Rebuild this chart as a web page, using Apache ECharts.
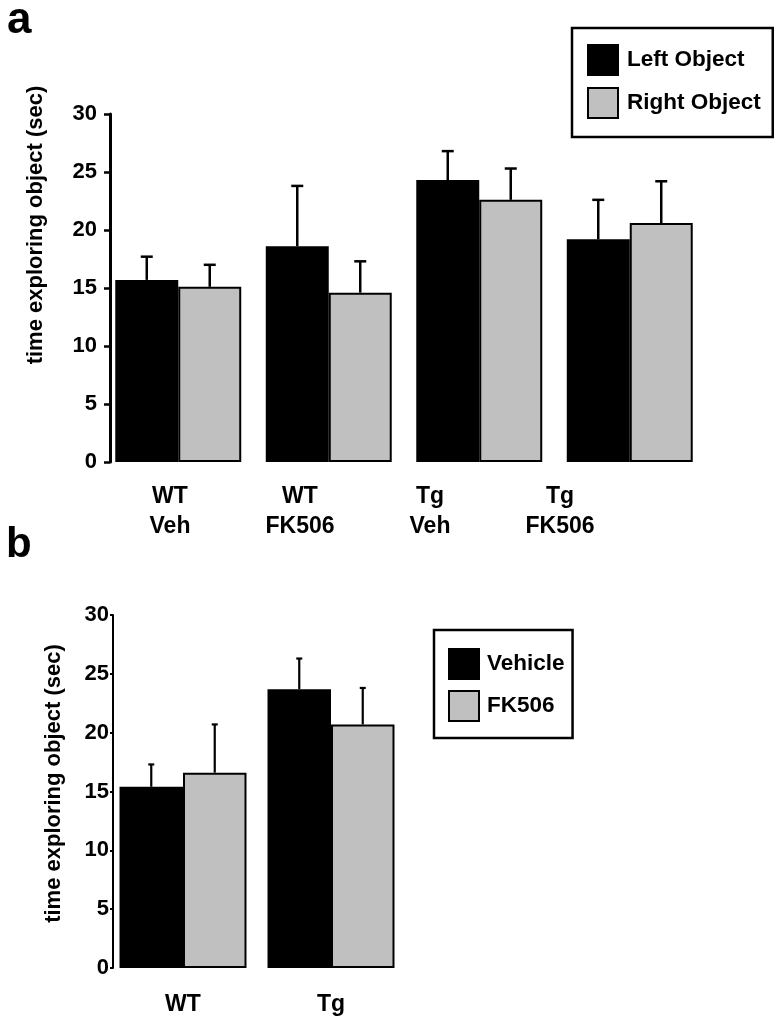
<!DOCTYPE html>
<html>
<head>
<meta charset="utf-8">
<script src="https://cdn.jsdelivr.net/npm/echarts@6/dist/echarts.min.js"></script>
<style>
html,body{margin:0;padding:0;background:#fff;}
#chart{width:784px;height:1025px;}
</style>
</head>
<body>
<div id="chart"></div>
<script>
// ---- Data ----
const categoriesA = ['WT\nVeh', 'WT\nFK506', 'Tg\nVeh', 'Tg\nFK506'];
const leftObject = [15.7, 18.6, 24.3, 19.2];
const leftObjectErr = [2.0, 5.2, 2.5, 3.4];
const rightObject = [15.1, 14.6, 22.6, 20.6];
const rightObjectErr = [1.9, 2.7, 2.7, 3.6];

const categoriesB = ['WT', 'Tg'];
const vehicle = [15.4, 23.7];
const vehicleErr = [1.9, 2.6];
const fk506 = [16.6, 20.7];
const fk506Err = [4.1, 3.1];

const yTicks = [0, 5, 10, 15, 20, 25, 30];
const yTitle = 'time exploring object (sec)';

// ---- Styling ----
const FONT = '"Liberation Sans", Arial, Helvetica, sans-serif';
const BLACK = '#000000';
const GRAY = '#c0c0c0';
const gapA = 0.163;
const gapB = 0.142;

function errData(vals, errs) {
  return vals.map((v, i) => [i, v, errs[i]]);
}
function errSeries(name, xi, yi, vals, errs, side, gap, lw, cap) {
  return {
    type: 'custom',
    name: name,
    xAxisIndex: xi,
    yAxisIndex: yi,
    z: 5,
    silent: true,
    encode: { x: 0, y: 1 },
    data: errData(vals, errs),
    renderItem: function (params, api) {
      const x = api.value(0), v = api.value(1), e = api.value(2);
      const base = api.coord([x, v]);
      const top = api.coord([x, v + e]);
      const bw = api.size([1, 0])[0] * (1 - gap) / 2;
      const cx = base[0] + side * bw / 2;
      const style = { stroke: BLACK, lineWidth: lw, fill: null };
      return {
        type: 'group',
        children: [
          { type: 'line', shape: { x1: cx, y1: base[1], x2: cx, y2: top[1] }, style: style },
          { type: 'line', shape: { x1: cx - cap / 2, y1: top[1], x2: cx + cap / 2, y2: top[1] }, style: style }
        ]
      };
    }
  };
}

const chart = echarts.init(document.getElementById('chart'), null, { renderer: 'canvas' });

const option = {
  backgroundColor: '#ffffff',
  animation: false,
  textStyle: { fontFamily: FONT, color: BLACK },
  title: [
    { text: 'a', left: 7, top: -1, padding: 0, textStyle: { fontSize: 44, fontWeight: 'bold', fontFamily: FONT, color: BLACK } },
    { text: 'b', left: 6, top: 524, padding: 0, textStyle: { fontSize: 42, fontWeight: 'bold', fontFamily: FONT, color: BLACK } }
  ],
  legend: [
    {
      data: ['Left Object', 'Right Object'],
      orient: 'vertical',
      left: 572, top: 28,
      padding: [16, 12, 18, 15],
      itemGap: 11,
      itemWidth: 30, itemHeight: 30,
      icon: 'rect',
      borderColor: BLACK, borderWidth: 2.5,
      selectedMode: false,
      textStyle: { fontSize: 22.5, fontWeight: 'bold', fontFamily: FONT, color: BLACK, padding: [0, 0, 0, 4] }
    },
    {
      data: ['Vehicle', 'FK506'],
      orient: 'vertical',
      left: 434, top: 630,
      padding: [18, 8, 16, 14],
      itemGap: 10,
      itemWidth: 30, itemHeight: 30,
      icon: 'rect',
      borderColor: BLACK, borderWidth: 2.5,
      selectedMode: false,
      textStyle: { fontSize: 22.5, fontWeight: 'bold', fontFamily: FONT, color: BLACK, padding: [0, 0, 0, 3] }
    }
  ],
  grid: [
    { left: 103, width: 602, top: 114, height: 348 },
    { left: 109, width: 296, top: 615, height: 353 },
    { left: 105, width: 520, top: 114, height: 348 }
  ],
  xAxis: [
    { type: 'category', gridIndex: 0, data: categoriesA, axisLine: { show: false }, axisTick: { show: false }, axisLabel: { show: false }, splitLine: { show: false } },
    { type: 'category', gridIndex: 1, data: categoriesB, axisLine: { show: false }, axisTick: { show: false },
      axisLabel: { show: true, interval: 0, margin: 25, fontSize: 23, fontWeight: 'bold', fontFamily: FONT, color: BLACK }, splitLine: { show: false } },
    { type: 'category', gridIndex: 2, data: categoriesA, axisLine: { show: false }, axisTick: { show: false },
      axisLabel: { show: true, interval: 0, margin: 20, fontSize: 23, lineHeight: 30, fontWeight: 'bold', fontFamily: FONT, color: BLACK }, splitLine: { show: false } }
  ],
  yAxis: [
    {
      type: 'value', gridIndex: 0, min: 0, max: 30, interval: 5, offset: -7,
      name: yTitle, nameLocation: 'middle', nameGap: 63, nameRotate: 90,
      nameTextStyle: { fontSize: 22, fontWeight: 'bold', fontFamily: FONT, color: BLACK, padding: [0, 0, 0, 126] },
      axisLine: { show: true, lineStyle: { color: BLACK, width: 3 } },
      axisTick: { show: true, inside: false, length: 6, lineStyle: { color: BLACK, width: 2.5 } },
      axisLabel: { margin: 13, fontSize: 22, fontWeight: 'bold', fontFamily: FONT, color: BLACK,
        formatter: function (v) { return yTicks.indexOf(v) >= 0 ? String(v) : ''; } },
      splitLine: { show: false }
    },
    {
      type: 'value', gridIndex: 1, min: 0, max: 30, interval: 5, offset: -4,
      name: yTitle, nameLocation: 'middle', nameGap: 48, nameRotate: 90,
      nameTextStyle: { fontSize: 22, fontWeight: 'bold', fontFamily: FONT, color: BLACK, padding: [0, 0, 0, 16] },
      axisLine: { show: true, lineStyle: { color: BLACK, width: 2 } },
      axisTick: { show: true, inside: false, length: 3, lineStyle: { color: BLACK, width: 2 } },
      axisLabel: { margin: 4, fontSize: 22, fontWeight: 'bold', fontFamily: FONT, color: BLACK,
        formatter: function (v) { return yTicks.indexOf(v) >= 0 ? String(v) : ''; } },
      splitLine: { show: false }
    },
    { type: 'value', gridIndex: 2, min: 0, max: 30, show: false, splitLine: { show: false } }
  ],
  series: [
    { type: 'bar', name: 'Left Object', xAxisIndex: 0, yAxisIndex: 0, data: leftObject, barGap: '0%', barCategoryGap: (gapA * 100) + '%',
      itemStyle: { color: BLACK, borderColor: BLACK, borderWidth: 2 } },
    { type: 'bar', name: 'Right Object', xAxisIndex: 0, yAxisIndex: 0, data: rightObject, barGap: '0%', barCategoryGap: (gapA * 100) + '%',
      itemStyle: { color: GRAY, borderColor: BLACK, borderWidth: 2 } },
    errSeries('Left Object error', 0, 0, leftObject, leftObjectErr, -1, gapA, 2.5, 12),
    errSeries('Right Object error', 0, 0, rightObject, rightObjectErr, 1, gapA, 2.5, 12),
    { type: 'bar', name: 'Vehicle', xAxisIndex: 1, yAxisIndex: 1, data: vehicle, barGap: '0%', barCategoryGap: (gapB * 100) + '%',
      itemStyle: { color: BLACK, borderColor: BLACK, borderWidth: 2 } },
    { type: 'bar', name: 'FK506', xAxisIndex: 1, yAxisIndex: 1, data: fk506, barGap: '0%', barCategoryGap: (gapB * 100) + '%',
      itemStyle: { color: GRAY, borderColor: BLACK, borderWidth: 2 } },
    errSeries('Vehicle error', 1, 1, vehicle, vehicleErr, -1, gapB, 2.2, 6),
    errSeries('FK506 error', 1, 1, fk506, fk506Err, 1, gapB, 2.2, 6)
  ]
};
chart.setOption(option);
</script>
</body>
</html>
